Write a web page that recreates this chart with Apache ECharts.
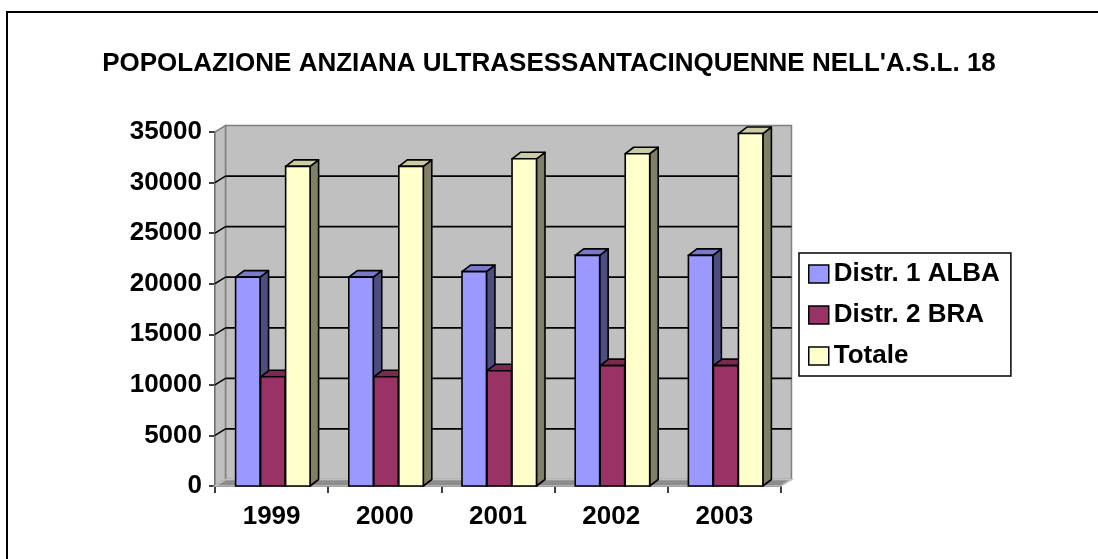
<!DOCTYPE html>
<html>
<head>
<meta charset="utf-8">
<script src="https://cdn.jsdelivr.net/npm/echarts@6/dist/echarts.min.js"></script>
<style>
  html, body { margin: 0; padding: 0; background: #fff; overflow: hidden; }
  #chart { width: 1098px; height: 559px; }
  #frame { position: absolute; left: 6px; top: 11px; width: 1200px; height: 700px;
           border: 2px solid #000; pointer-events: none; }
</style>
</head>
<body>
<div id="chart"></div>
<div id="frame"></div>
<script>
var categories = ['1999', '2000', '2001', '2002', '2003'];
var alba = [20650, 20650, 21200, 22800, 22800];
var bra = [10800, 10800, 11400, 11900, 11900];
var totale = [31600, 31600, 32350, 32850, 34850];
var yTicks = [0, 5000, 10000, 15000, 20000, 25000, 30000, 35000];
var seriesNames = ['Distr. 1 ALBA', 'Distr. 2 BRA', 'Totale'];
var colors = ['#9999ff', '#993366', '#ffffcc'];

// depth of walls and bars (pixels)
var WX = 10.5, WY = -6.5;
var DX = 8.5, DY = -6.5;

function shade(hex, f) {
  var n = parseInt(hex.slice(1), 16);
  var r = Math.round(((n >> 16) & 255) * f);
  var g = Math.round(((n >> 8) & 255) * f);
  var b = Math.round((n & 255) * f);
  return 'rgb(' + r + ',' + g + ',' + b + ')';
}

function barItem(k) {
  return function (params, api) {
    var c = api.coord([api.value(0), api.value(1)]);
    var b = api.coord([api.value(0), 0]);
    var band = api.size([1, 0])[0];
    var w = band * 0.216;
    var x0 = c[0] - band * 0.318 + k * band * 0.221;
    var x1 = x0 + w, yt = c[1], yb = b[1];
    var col = colors[k];
    return {
      type: 'group',
      children: [
        { type: 'polygon', shape: { points: [[x1, yb], [x1 + DX, yb + DY], [x1 + DX, yt + DY], [x1, yt]] },
          style: { fill: shade(col, 0.5), stroke: '#000', lineWidth: 1.6, lineJoin: 'round' } },
        { type: 'polygon', shape: { points: [[x0, yt], [x0 + DX, yt + DY], [x1 + DX, yt + DY], [x1, yt]] },
          style: { fill: shade(col, 0.8), stroke: '#000', lineWidth: 1.6, lineJoin: 'round' } },
        { type: 'rect', shape: { x: x0, y: yt, width: w, height: yb - yt },
          style: { fill: col, stroke: '#000', lineWidth: 1.6 } }
      ]
    };
  };
}

function wallItem(params, api) {
  var cs = params.coordSys;
  var L = cs.x, R = cs.x + cs.width, T = cs.y, B = cs.y + cs.height;
  var v = api.value(1);
  var y = api.coord([0, v])[1];
  var kids = [];
  if (params.dataIndex === 0) {
    kids.push({ type: 'rect', shape: { x: L + WX, y: T + WY, width: R - L, height: B - T },
      style: { fill: '#c0c0c0', stroke: '#808080', lineWidth: 1.5 } });
    kids.push({ type: 'polygon', shape: { points: [[L, T], [L + WX, T + WY], [L + WX, B + WY], [L, B]] },
      style: { fill: '#c0c0c0', stroke: '#808080', lineWidth: 1.5 } });
    kids.push({ type: 'polygon', shape: { points: [[L, B], [L + WX, B + WY], [R + WX, B + WY], [R, B]] },
      style: { fill: '#8c8c8c', stroke: '#c0c0c0', lineWidth: 1.5 } });
  } else if (v < yTicks[yTicks.length - 1]) {
    kids.push({ type: 'line', shape: { x1: L + WX, y1: y + WY, x2: R + WX, y2: y + WY },
      style: { stroke: '#000', lineWidth: 1.8 } });
    kids.push({ type: 'line', shape: { x1: L, y1: y, x2: L + WX, y2: y + WY },
      style: { stroke: '#000', lineWidth: 1.5 } });
  }
  return { type: 'group', children: kids };
}

var values = [alba, bra, totale];
var series = [{
  name: 'walls',
  type: 'custom',
  renderItem: wallItem,
  encode: { x: 0, y: 1 },
  silent: true,
  z: 1,
  data: yTicks.map(function (v) { return [0, v]; })
}];
values.forEach(function (arr, k) {
  series.push({
    name: seriesNames[k],
    type: 'custom',
    renderItem: barItem(k),
    encode: { x: 0, y: 1 },
    itemStyle: { color: colors[k] },
    z: 2,
    data: arr.map(function (v, i) { return [i, v]; })
  });
});

var labelFont = { color: '#000', fontWeight: 'bold', fontSize: 26, fontFamily: 'Liberation Sans, Arial, sans-serif' };

var option = {
  animation: false,
  title: {
    text: "POPOLAZIONE ANZIANA ULTRASESSANTACINQUENNE NELL'A.S.L. 18",
    left: 'center',
    top: 46,
    textStyle: { color: '#000', fontWeight: 'bold', fontSize: 26, fontFamily: 'Liberation Sans, Arial, sans-serif' }
  },
  legend: {
    orient: 'vertical',
    left: 799,
    top: 253,
    padding: [8, 11, 7, 9],
    itemGap: 15,
    itemWidth: 20,
    itemHeight: 18,
    borderColor: '#000',
    borderWidth: 1.5,
    textStyle: labelFont,
    data: seriesNames.map(function (n, k) {
      return { name: n, icon: 'rect', itemStyle: { color: colors[k], borderColor: '#000', borderWidth: 1.5 } };
    })
  },
  grid: { left: 215, top: 132, width: 566, height: 354, containLabel: false },
  xAxis: {
    type: 'category',
    data: categories,
    boundaryGap: true,
    axisLine: { lineStyle: { color: '#000', width: 1.5 } },
    axisTick: { show: true, length: 7, lineStyle: { color: '#000', width: 1.5 } },
    axisLabel: Object.assign({ margin: 18 }, labelFont),
    splitLine: { show: false }
  },
  yAxis: {
    type: 'value',
    min: 0,
    max: 35000,
    interval: 5000,
    axisLine: { show: true, lineStyle: { color: '#000', width: 1.5 } },
    axisTick: { show: true, length: 6, lineStyle: { color: '#000', width: 1.5 } },
    axisLabel: Object.assign({ margin: 13, formatter: function (v) { return String(v); } }, labelFont),
    splitLine: { show: false }
  },
  series: series
};

var chart = echarts.init(document.getElementById('chart'));
chart.setOption(option);
</script>
</body>
</html>
